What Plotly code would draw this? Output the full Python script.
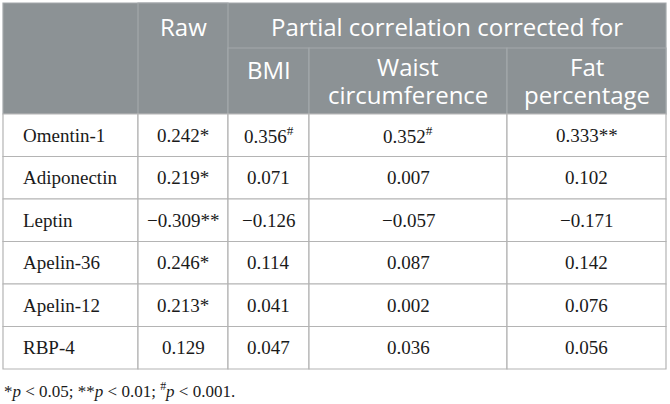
import plotly.graph_objects as go

###############
## DATA ##
###############

markers = ["Omentin-1", "Adiponectin", "Leptin", "Apelin-36", "Apelin-12", "RBP-4"]
raw = ["0.242*", "0.219*", "\u22120.309**", "0.246*", "0.213*", "0.129"]
bmi = ["0.356<sup>#</sup>", "0.071", "\u22120.126", "0.114", "0.041", "0.047"]
waist = ["0.352<sup>#</sup>", "0.007", "\u22120.057", "0.087", "0.002", "0.036"]
fat = ["0.333**", "0.102", "\u22120.171", "0.142", "0.076", "0.056"]

top_header = ["", "Raw", "Partial correlation corrected for"]
sub_header = ["BMI", "Waist<br>circumference", "Fat<br>percentage"]
footnote = "*<i>p</i> < 0.05; **<i>p</i> < 0.01; <sup>#</sup><i>p</i> < 0.001."

###############
## LAYOUT ##
###############

W, H = 670, 404
col_edges = [3, 138, 228, 309, 507, 666]
head_top, head_mid, head_bot = 3, 48, 114
row_h = 42.5
HEAD_FILL = "#8c9295"
HEAD_LINE = "#a3a8ab"
BODY_LINE = "#b4b4b4"
SANS = "Open Sans"
SERIF = "Liberation Serif"

fig = go.Figure()
shapes, notes = [], []

def rect(x0, y0, x1, y1, fill, line):
  shapes.append(dict(type="rect", x0=x0, y0=y0, x1=x1, y1=y1, xref="x", yref="y",
                     fillcolor=fill, line=dict(color=line, width=1.2), layer="below"))

def label(x, y, text, size, font, color, anchor="center"):
  notes.append(dict(x=x, y=y, xref="x", yref="y", text=text, showarrow=False,
                    xanchor=anchor, yanchor="middle", borderpad=0,
                    font=dict(family=font, size=size, color=color)))

# header block
rect(col_edges[0], head_top, col_edges[-1], head_bot, HEAD_FILL, HEAD_LINE)
rect(col_edges[1], head_top, col_edges[2], head_bot, HEAD_FILL, HEAD_LINE)
rect(col_edges[2], head_mid, col_edges[3], head_bot, HEAD_FILL, HEAD_LINE)
rect(col_edges[3], head_mid, col_edges[4], head_bot, HEAD_FILL, HEAD_LINE)
rect(col_edges[4], head_mid, col_edges[5], head_bot, HEAD_FILL, HEAD_LINE)

label((col_edges[1] + col_edges[2]) / 2, 26, top_header[1], 24, SANS, "white")
label((col_edges[2] + col_edges[5]) / 2, 26, top_header[2], 24, SANS, "white")
for i, txt in enumerate(sub_header):
  cx = (col_edges[i + 2] + col_edges[i + 3]) / 2
  lines = txt.split("<br>")
  if len(lines) == 1:
    label(cx, 69, lines[0], 24, SANS, "white")
  else:
    # two-line header, tighter leading than plotly's <br>
    label(cx, 66, lines[0], 24, SANS, "white")
    label(cx, 94, lines[1], 24, SANS, "white")

# body
columns = [raw, bmi, waist, fat]
for r, name in enumerate(markers):
  y0 = head_bot + r * row_h
  y1 = y0 + row_h
  for c in range(5):
    rect(col_edges[c], y0, col_edges[c + 1], y1, "white", BODY_LINE)
  yc = (y0 + y1) / 2
  label(col_edges[0] + 19, yc, name, 19, SERIF, "#1a1a1a", anchor="left")
  for c, col in enumerate(columns):
    cx = (col_edges[c + 1] + col_edges[c + 2]) / 2
    label(cx, yc, col[r], 19, SERIF, "#1a1a1a")

label(col_edges[0], head_bot + 6 * row_h + 21, footnote, 17, SERIF, "#1a1a1a", anchor="left")

fig.update_layout(
  width=W, height=H,
  margin=dict(l=0, r=0, t=0, b=0),
  paper_bgcolor="white", plot_bgcolor="white",
  xaxis=dict(range=[0, W], visible=False, fixedrange=True),
  yaxis=dict(range=[H, 0], visible=False, fixedrange=True),
  shapes=shapes, annotations=notes, showlegend=False
)

# page body has a default 8px margin, drop it so the figure sits at 0,0
fig.write_html("out.html", config={"displayModeBar": False},
               post_script="document.body.style.margin = '0';")
